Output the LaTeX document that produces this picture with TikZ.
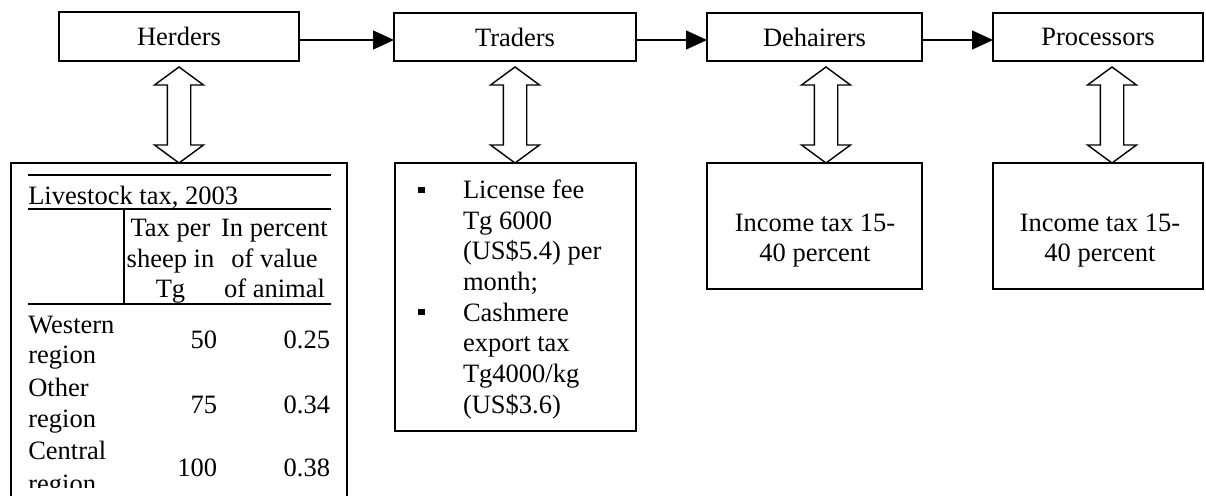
\documentclass[tikz,border=0pt]{standalone}
\usepackage{fontspec}
\setmainfont{Liberation Serif}
\usetikzlibrary{arrows.meta}
\tikzset{
  pics/dblarrow/.style={code={
    \draw[line width=1.4pt, fill=white, line join=miter]
      (0,0) -- (24.5,18) -- (11.7,18) -- (11.7,#1-18) -- (24.5,#1-18) -- (0,#1)
      -- (-24.5,#1-18) -- (-11.7,#1-18) -- (-11.7,18) -- (-24.5,18) -- cycle;
  }}
}
\begin{document}
\begin{tikzpicture}[x=1pt,y=-1pt,
  every node/.style={inner sep=0pt, outer sep=0pt, font=\fontsize{26.5}{30.7}\selectfont},
  box/.style={draw, line width=1.4pt},
  txt/.style={anchor=base},
  txtl/.style={anchor=base west},
  txtr/.style={anchor=base east},
  rule/.style={line width=1.6pt},
  flow/.style={line width=1.4pt, -{Triangle[length=21pt,width=19pt]}},
  bullet/.style={fill=black, minimum size=6.5pt}]
\useasboundingbox (0,0) rectangle (1206,495);
\clip (0,0) rectangle (1206,495);

% top row
\node[box, minimum width=240pt, minimum height=49pt] (herders) at (179,36.5) {Herders};
\node[box, minimum width=242pt, minimum height=48pt] (traders) at (515,37) {Traders};
\node[box, minimum width=215pt, minimum height=48pt] (dehairers) at (814.5,37) {Dehairers};
\node[box, minimum width=210pt, minimum height=48pt] (processors) at (1098,37) {Processors};

\coordinate (flowy) at (0,40);
\draw[flow] (herders.east |- flowy) -- (traders.west |- flowy);
\draw[flow] (traders.east |- flowy) -- (dehairers.west |- flowy);
\draw[flow] (dehairers.east |- flowy) -- (processors.west |- flowy);

% lower boxes
\node[box, minimum width=336pt, minimum height=360pt] (tax) at (179,343) {};
\node[box, minimum width=241pt, minimum height=268pt] (fee) at (515.5,297) {};
\node[box, minimum width=215pt, minimum height=126pt] (inc1) at (814.5,226) {};
\node[box, minimum width=210pt, minimum height=126pt] (inc2) at (1098,226) {};

% double arrows
\pic at ([yshift=-6pt]herders.south) {dblarrow=96};
\pic at ([yshift=-6pt]traders.south) {dblarrow=96};
\pic at ([xshift=11.5pt,yshift=-6pt]dehairers.south) {dblarrow=96};
\pic at ([xshift=14pt,yshift=-6pt]processors.south) {dblarrow=96};

% livestock table
\draw[rule] (28,175) -- (331,175);
\draw[rule] (28,209) -- (331,209);
\draw[rule] (124,209) -- (124,304);
\draw[rule] (28,304) -- (331,304);
\node[txtl] (lt) at (28.3,204) {Livestock tax, 2003};
\node[txt] (h21) at (170.5,236.5) {Tax per};
\node[txt] (h22) at (170.5,267) {sheep in};
\node[txt] (h23) at (170.5,297.5) {Tg};
\node[txt] (h31) at (274.5,236.5) {In percent};
\node[txt] (h32) at (274.5,267) {of value};
\node[txt] (h33) at (274.5,297.5) {of animal};
\node[txtl] (r1a) at (28.3,333.3) {Western};
\node[txtl] (r1b) at (28.3,363.8) {region};
\node[txtl] (r2a) at (28.3,396.7) {Other};
\node[txtl] (r2b) at (28.3,427.5) {region};
\node[txtl] (r3a) at (28.3,459.3) {Central};
\begin{scope}
  \clip (0,0) rectangle (1206,487);
  \node[txtl] (r3b) at (28.3,492) {region};
\end{scope}
\node[txtr] (n1) at (217,348.3) {50};
\node[txtr] (n2) at (217,413.3) {75};
\node[txtr] (n3) at (217,476.7) {100};
\node[txtr] (p1) at (330,348.3) {0.25};
\node[txtr] (p2) at (330,413.3) {0.34};
\node[txtr] (p3) at (330,476.7) {0.38};

% traders fees
\node[bullet] (b1) at (421.5,190) {};
\node[bullet] (b2) at (421.5,312) {};
\node[txtl] (f1) at (463,198.3) {License fee};
\node[txtl] (f2) at (463,229) {Tg 6000};
\node[txtl] (f3) at (463,259.7) {(US\$5.4) per};
\node[txtl] (f4) at (463,290.4) {month;};
\node[txtl] (f5) at (463,321.1) {Cashmere};
\node[txtl] (f6) at (463,351.8) {export tax};
\node[txtl] (f7) at (463,382.5) {Tg4000/kg};
\node[txtl] (f8) at (463,413.2) {(US\$3.6)};

% income tax
\node[txt] (i1a) at (815,231.7) {Income tax 15-};
\node[txt] (i1b) at (815,261.7) {40 percent};
\node[txt] (i2a) at (1100,231.7) {Income tax 15-};
\node[txt] (i2b) at (1100,261.7) {40 percent};
\end{tikzpicture}
\end{document}
